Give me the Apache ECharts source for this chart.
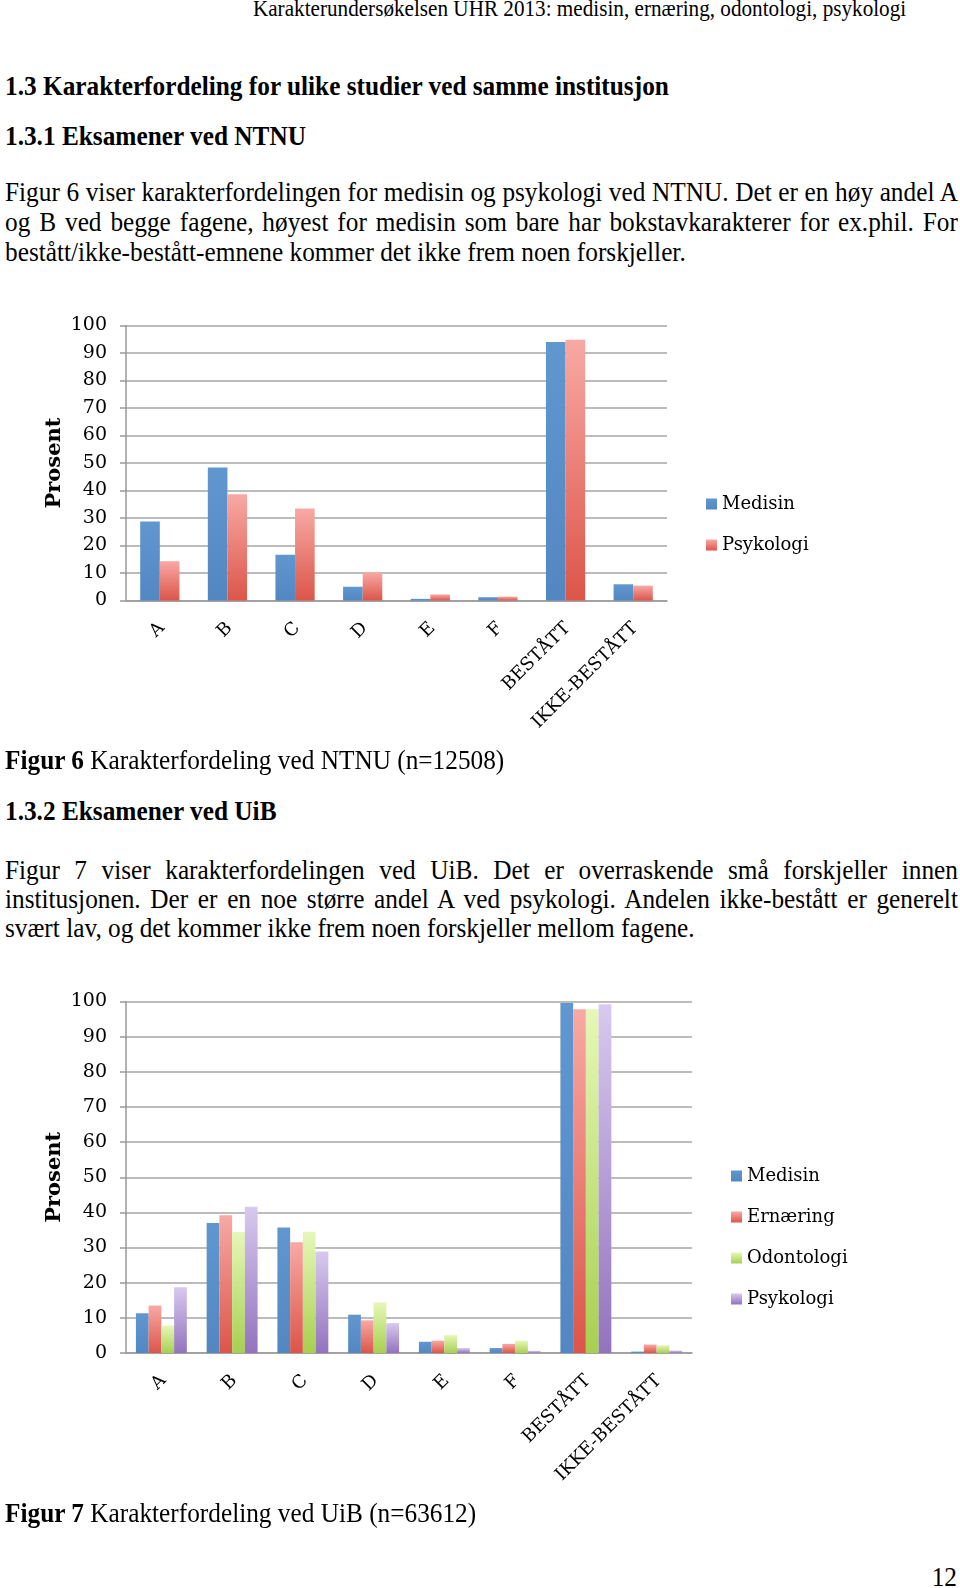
<!DOCTYPE html>
<html>
<head>
<meta charset="utf-8">
<script src="https://cdn.jsdelivr.net/npm/echarts@6/dist/echarts.min.js"></script>
<style>
  html, body { margin: 0; padding: 0; background: #fff; }
  body { width: 960px; height: 1588px; position: relative; overflow: hidden; font-family: "Liberation Serif", serif; color: #000; }
  .t { position: absolute; white-space: nowrap; line-height: 30px; font-size: 27px; transform: scaleX(0.937); transform-origin: left top; }
  .h { font-weight: bold; }
  .j { left: 5px; width: 1017px; text-align: justify; text-align-last: justify; }
  .l { left: 5px; }
  .r { transform-origin: right top; }
  #c1 { position: absolute; left: 0; top: 300px; width: 960px; height: 450px; }
  #c2 { position: absolute; left: 0; top: 960px; width: 960px; height: 540px; }
</style>
</head>
<body>
<div class="t r" style="right:54px; top:-4px; font-size:22.6px; line-height:26px;">Karakterundersøkelsen UHR 2013: medisin, ernæring, odontologi, psykologi</div>
<div class="t h l" style="top:71px;">1.3 Karakterfordeling for ulike studier ved samme institusjon</div>
<div class="t h l" style="top:121px;">1.3.1 Eksamener ved NTNU</div>
<div class="t j" style="top:177px;">Figur 6 viser karakterfordelingen for medisin og psykologi ved NTNU. Det er en høy andel A</div>
<div class="t j" style="top:207px;">og B ved begge fagene, høyest for medisin som bare har bokstavkarakterer for ex.phil. For</div>
<div class="t l" style="top:237px;">bestått/ikke-bestått-emnene kommer det ikke frem noen forskjeller.</div>
<div id="c1"></div>
<div class="t l" style="top:745px;"><b>Figur 6</b> Karakterfordeling ved NTNU (n=12508)</div>
<div class="t h l" style="top:796px;">1.3.2 Eksamener ved UiB</div>
<div class="t j" style="top:855px;">Figur 7 viser karakterfordelingen ved UiB. Det er overraskende små forskjeller innen</div>
<div class="t j" style="top:884px;">institusjonen. Der er en noe større andel A ved psykologi. Andelen ikke-bestått er generelt</div>
<div class="t l" style="top:913px;">svært lav, og det kommer ikke frem noen forskjeller mellom fagene.</div>
<div id="c2"></div>
<div class="t l" style="top:1498px;"><b>Figur 7</b> Karakterfordeling ved UiB (n=63612)</div>
<div class="t r" style="right:3px; top:1562px;">12</div>

<script>
  // grade categories (same for both figures)
  var categories = ['A', 'B', 'C', 'D', 'E', 'F', 'BESTÅTT', 'IKKE-BESTÅTT'];

  // Figur 6: NTNU
  var ntnuMedisin    = [28.7, 48.4, 16.6, 5.0, 0.6, 1.2, 94.0, 5.9];
  var ntnuPsykologi  = [14.3, 38.6, 33.5, 10.2, 2.2, 1.4, 94.8, 5.4];

  // Figur 7: UiB
  var uibMedisin     = [11.3, 37.0, 35.7, 10.9, 3.2, 1.4, 99.6, 0.4];
  var uibErnaering   = [13.5, 39.2, 31.5, 9.3, 3.5, 2.6, 97.8, 2.4];
  var uibOdontologi  = [7.8, 34.4, 34.5, 14.4, 5.1, 3.5, 97.8, 2.2];
  var uibPsykologi   = [18.7, 41.6, 28.9, 8.5, 1.4, 0.6, 99.2, 0.7];

  // y axis ticks
  var yMin = 0, yMax = 100, yStep = 10;

  var serif = 'DejaVu Serif';

  function grad(top, bottom) {
    return new echarts.graphic.LinearGradient(0, 0, 0, 1, [
      { offset: 0, color: top },
      { offset: 1, color: bottom }
    ]);
  }

  var colors = {
    Medisin:    grad('#6197cf', '#5287c2'),
    Psykologi:  grad('#d7c9ef', '#9373bd'),
    Ernæring:   grad('#f8a9a4', '#dc5549'),
    Odontologi: grad('#e6f7b8', '#a7d050')
  };
  var ntnuPsykColor = grad('#f8a9a4', '#dc5549');

  function baseOption(grid, legendTop, legendLeft, legendGap) {
    return {
      animation: false,
      grid: grid,
      legend: {
        orient: 'vertical',
        left: legendLeft,
        top: legendTop,
        itemWidth: 11,
        itemHeight: 11,
        itemGap: legendGap,
        icon: 'rect',
        textStyle: { fontFamily: serif, fontSize: 18, color: '#000', lineHeight: 20 }
      },
      xAxis: {
        type: 'category',
        data: categories,
        axisLine: { lineStyle: { color: '#999', width: 1.5 } },
        axisTick: { show: false },
        axisLabel: { rotate: 45, margin: 27, padding: [0, -3, 0, 0], fontFamily: serif, fontSize: 18, color: '#000', interval: 0 }
      },
      yAxis: {
        type: 'value',
        min: yMin,
        max: yMax,
        interval: yStep,
        name: 'Prosent',
        nameLocation: 'middle',
        nameRotate: 90,
        nameGap: 61,
        nameMoveOverlap: false,
        nameTextStyle: { fontFamily: serif, fontSize: 21, fontWeight: 'bold', color: '#000' },
        axisLine: { show: true, lineStyle: { color: '#999', width: 1.5 } },
        axisTick: { show: true, length: 6, lineStyle: { color: '#999', width: 1.5 } },
        axisLabel: { margin: 19, fontFamily: serif, fontSize: 19, color: '#000' },
        splitLine: { lineStyle: { color: '#a6a6a6', width: 1.5 } }
      }
    };
  }

  // Figur 6
  var chart1 = echarts.init(document.getElementById('c1'), null, { renderer: 'canvas' });
  var opt1 = baseOption({ left: 126, right: 293, top: 25.5, bottom: 149.5 }, 189, 701, 21);
  opt1.series = [
    { name: 'Medisin', type: 'bar', data: ntnuMedisin, barGap: '0%', barCategoryGap: '42%',
      itemStyle: { color: colors.Medisin } },
    { name: 'Psykologi', type: 'bar', data: ntnuPsykologi,
      itemStyle: { color: ntnuPsykColor } }
  ];
  chart1.setOption(opt1);

  // Figur 7
  var chart2 = echarts.init(document.getElementById('c2'), null, { renderer: 'canvas' });
  var opt2 = baseOption({ left: 126, right: 268, top: 41.5, bottom: 147 }, 201, 726, 21);
  opt2.series = [
    { name: 'Medisin', type: 'bar', data: uibMedisin, barGap: '0%', barCategoryGap: '28%',
      itemStyle: { color: colors.Medisin } },
    { name: 'Ernæring', type: 'bar', data: uibErnaering, itemStyle: { color: colors['Ernæring'] } },
    { name: 'Odontologi', type: 'bar', data: uibOdontologi, itemStyle: { color: colors.Odontologi } },
    { name: 'Psykologi', type: 'bar', data: uibPsykologi, itemStyle: { color: colors.Psykologi } }
  ];
  chart2.setOption(opt2);
</script>
</body>
</html>
